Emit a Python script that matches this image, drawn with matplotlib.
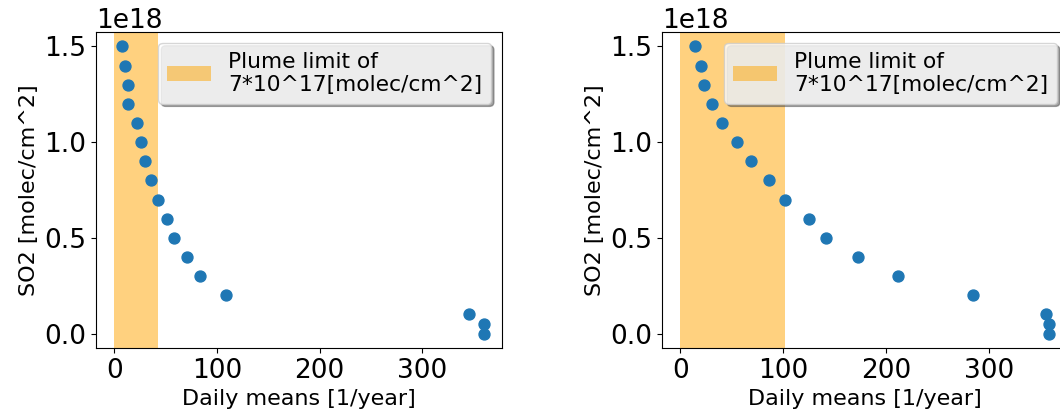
import numpy as np
import matplotlib
matplotlib.use("Agg")
import matplotlib.pyplot as plt

# SO2 column thresholds [molec/cm^2]
so2_levels = np.array([1.5, 1.4, 1.3, 1.2, 1.1, 1.0, 0.9, 0.8, 0.7,
                       0.6, 0.5, 0.4, 0.3, 0.2, 0.1, 0.05, 0.0]) * 1e18

# number of daily means above each threshold, two cases
days_left = [7, 10, 13, 13, 22, 26, 30, 36, 42,
             51, 58, 71, 83, 109, 346, 360, 360]
days_right = [14, 20, 23, 31, 40, 55, 69, 86, 102,
              125, 142, 173, 212, 285, 356, 359, 359]

plume_limit = 7e17
span_left = (0, 42)
span_right = (0, 102)

legend_text = "Plume limit of\n7*10^17[molec/cm^2]"

fig = plt.figure(figsize=(10.6, 4.19), dpi=100)
ax1 = fig.add_axes([0.0906, 0.1695, 0.383, 0.754])
ax2 = fig.add_axes([0.6245, 0.1695, 0.383, 0.754])

for ax, days, span in [(ax1, days_left, span_left), (ax2, days_right, span_right)]:
    ax.axvspan(span[0], span[1], color="orange", alpha=0.5, lw=0, label=legend_text)
    ax.scatter(days, so2_levels, s=62, color="C0", zorder=3)
    ax.set_xlabel("Daily means [1/year]", fontsize=16)
    ax.set_ylabel("SO2 [molec/cm^2]", fontsize=16)
    ax.tick_params(labelsize=19)
    ax.yaxis.get_offset_text().set_fontsize(19)
    ax.set_xticks([0, 100, 200, 300])
    ax.set_yticks([0.0, 0.5e18, 1.0e18, 1.5e18])
    # semi-transparent frame so the shadow greys the box
    ax.legend(loc="upper right", fontsize=15.7, shadow=True, framealpha=0.8)

fig.savefig("out.png", dpi=100)
